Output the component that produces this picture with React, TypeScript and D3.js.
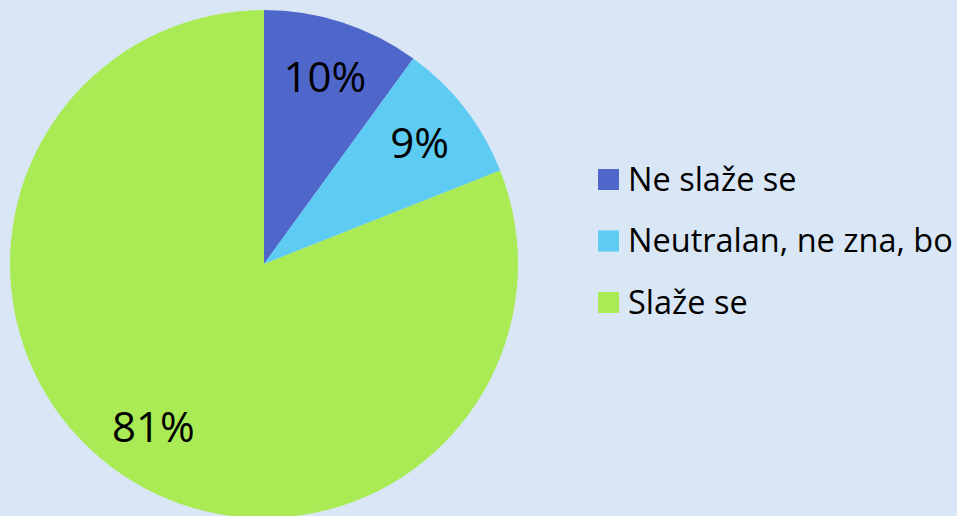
import React from "react";
import * as d3 from "d3";

// survey answers, share in %
const categories = ["Ne slaže se", "Neutralan, ne zna, bo", "Slaže se"];
const values = [10, 9, 81];
const labels = ["10%", "9%", "81%"];
const colors = ["#4F67CB", "#5DCBF2", "#A9EA55"];

const W = 957, H = 516;

export default function App() {
  const cx = 264, cy = 264, r = 254;

  const pie = d3.pie<number>().sort(null).value(d => d);
  const arcs = pie(values);
  const arc = d3.arc<d3.PieArcDatum<number>>().innerRadius(0).outerRadius(r);
  const labelArc = d3.arc<d3.PieArcDatum<number>>().innerRadius(197).outerRadius(197);

  // legend rows
  const legendY = d3.scalePoint<string>().domain(categories).range([179, 302]);

  return (
    <svg width={W} height={H} style={{position: "absolute", left: 0, top: 0}}
      fontFamily="'Open Sans', sans-serif">
      <rect width={W} height={H} fill="#D9E6F5" />
      <g transform={`translate(${cx},${cy})`}>
        {arcs.map((a, i) => (
          <path key={i} d={arc(a) || ""} fill={colors[i]} />
        ))}
        {arcs.map((a, i) => {
          const [x, y] = labelArc.centroid(a);
          return (
            <text key={"l" + i} x={x} y={y} dy="0.36em" textAnchor="middle"
              fontSize={42} fill="#000">{labels[i]}</text>
          );
        })}
      </g>
      <g>
        {categories.map((c, i) => (
          <g key={c} transform={`translate(598,${legendY(c)})`}>
            <rect x={0} y={-10} width={21} height={21} fill={colors[i]} />
            <text x={30} y={0} dy="0.36em" fontSize={32.5} fill="#000">{c}</text>
          </g>
        ))}
      </g>
    </svg>
  );
}
